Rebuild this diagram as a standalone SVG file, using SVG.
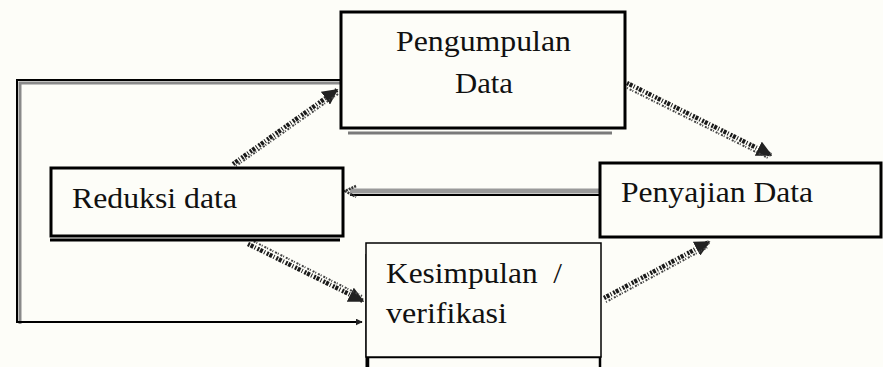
<svg xmlns="http://www.w3.org/2000/svg" width="883" height="367" viewBox="0 0 883 367">
<defs>
<style>
.box{fill:#fdfdf8;stroke:#000;stroke-width:3}
.lbl{font-family:'Liberation Serif','Times New Roman',Times,serif;font-size:30px;fill:#111;white-space:pre}
.noisy{fill:none;stroke:#1a1a1a;stroke-width:4.5;stroke-dasharray:2 1 3 1.5 1 2;stroke-linecap:butt}
.noisy2{fill:none;stroke:#444;stroke-width:2;stroke-dasharray:1 2 2 1}
.shadow{fill:none;stroke:#8a8a8a;stroke-width:3}
.edge{fill:none;stroke:#000;stroke-width:2}
</style>
<marker id="ah" viewBox="0 0 10 10" refX="9" refY="5" markerWidth="3.5" markerHeight="3.5" orient="auto">
<path d="M0,0 L10,5 L0,10 Z" fill="#222"/>
</marker>
</defs>
<rect width="883" height="367" fill="#fdfdf8"/>

<g id="connectors">
<polyline class="shadow" points="340,83 20,83 20,324"/>
<polyline class="edge" points="340,80 17,80 17,322 362,322" marker-end="url(#ah)"/>
<line x1="599" y1="191" x2="350" y2="191" stroke="#9a9a9a" stroke-width="5"/>
<line x1="599" y1="195" x2="350" y2="195" stroke="#000" stroke-width="2"/>
<path d="M356,186 L345,191 L356,197" fill="none" stroke="#333" stroke-width="2.5" stroke-dasharray="2 1"/>
<line class="noisy" x1="233" y1="164" x2="337" y2="90" marker-end="url(#ah)"/>
<line class="noisy2" x1="236" y1="166" x2="338" y2="94"/>
<line class="noisy" x1="627" y1="83" x2="771" y2="155" marker-end="url(#ah)"/>
<line class="noisy2" x1="627" y1="88" x2="768" y2="158"/>
<line class="noisy" x1="248" y1="244" x2="363" y2="301" marker-end="url(#ah)"/>
<line class="noisy2" x1="251" y1="240" x2="362" y2="296"/>
<line class="noisy" x1="604" y1="298" x2="709" y2="242" marker-end="url(#ah)"/>
<line class="noisy2" x1="606" y1="302" x2="708" y2="247"/>
</g>

<g id="pengumpulan">
<line x1="348" y1="133" x2="612" y2="133" stroke="#7a7a7a" stroke-width="3"/>
<rect class="box" x="341" y="12" width="284" height="116"/>
<text class="lbl" x="396" y="51" textLength="175" lengthAdjust="spacingAndGlyphs">Pengumpulan</text>
<text class="lbl" x="455" y="93" textLength="58" lengthAdjust="spacingAndGlyphs">Data</text>
</g>

<g id="reduksi">
<line x1="50" y1="240" x2="340" y2="240" stroke="#000" stroke-width="3"/>
<rect class="box" x="51" y="168" width="292" height="68"/>
<text class="lbl" x="72" y="208" textLength="165" lengthAdjust="spacingAndGlyphs">Reduksi data</text>
</g>

<g id="penyajian">
<rect class="box" x="600" y="163" width="281" height="74"/>
<text class="lbl" x="621" y="202" textLength="192" lengthAdjust="spacingAndGlyphs">Penyajian Data</text>
</g>

<g id="kesimpulan">
<rect x="368" y="357" width="232" height="14" fill="#fdfdf8" stroke="#000" stroke-width="2.5"/>
<line x1="367" y1="254" x2="367" y2="367" stroke="#000" stroke-width="3"/>
<rect x="366" y="243" width="235" height="114" fill="#fdfdf8" stroke="#000" stroke-width="1.5"/>
<text class="lbl" x="386" y="283" textLength="176" lengthAdjust="spacingAndGlyphs" xml:space="preserve">Kesimpulan  /</text>
<text class="lbl" x="386" y="323" textLength="121" lengthAdjust="spacingAndGlyphs">verifikasi</text>
</g>
</svg>
